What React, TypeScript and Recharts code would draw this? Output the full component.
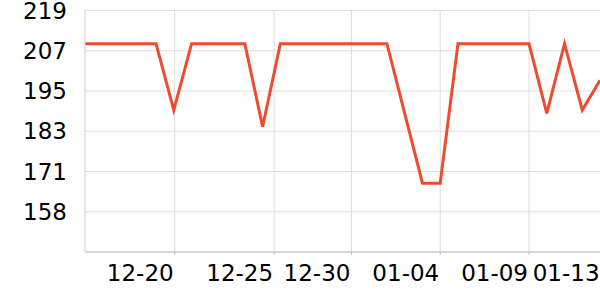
import React from "react";
import { LineChart, Line, XAxis, YAxis, CartesianGrid } from "recharts";

const dates = [
  "12-15", "12-16", "12-17", "12-18", "12-19", "12-20", "12-21", "12-22", "12-23", "12-24",
  "12-25", "12-26", "12-27", "12-28", "12-29", "12-30", "12-31", "01-01", "01-02", "01-03",
  "01-04", "01-05", "01-06", "01-07", "01-08", "01-09", "01-10", "01-11", "01-12", "01-13",
];
const values = [
  209, 209, 209, 209, 209, 189, 209, 209, 209, 209,
  184, 209, 209, 209, 209, 209, 209, 209, 188, 167,
  167, 209, 209, 209, 209, 209, 188, 209, 189, 198,
];
const xTicks = [5.05, 10.65, 15, 20, 25, 29.03];
const xTickLabels = ["12-20", "12-25", "12-30", "01-04", "01-09", "01-13"];
const xDomain = [0, 29.56];
const yTicks = [219, 206.88, 194.76, 182.64, 170.52, 158.4];
const yTickLabels = ["219", "207", "195", "183", "171", "158"];
const yDomain = [146.28, 219];

const data = dates.map((d, i) => ({ x: i, date: d, v: values[i] }));

const FONT = "DejaVu Sans";

const XTick = (props: any) => {
  const { x, y, payload } = props;
  const idx = xTicks.indexOf(payload.value);
  return (
    <text x={x - 1} y={y} dy="0.71em" textAnchor="end" fontSize={23} fontFamily={FONT} fill="#000">
      {idx >= 0 ? xTickLabels[idx] : ""}
    </text>
  );
};

const YTick = (props: any) => {
  const { x, y, payload } = props;
  const idx = yTicks.indexOf(payload.value);
  return (
    <text x={x} y={y} dy="0.355em" textAnchor="end" fontSize={23} fontFamily={FONT} fill="#000">
      {idx >= 0 ? yTickLabels[idx] : ""}
    </text>
  );
};

export default function App() {
  return (
    <div style={{ position: "absolute", left: 0, top: 0, width: 600, height: 300, overflow: "hidden" }}>
      <LineChart
        width={610}
        height={300}
        data={data}
        margin={{ top: 10.5, right: 0, bottom: 0, left: 0 }}
      >
        <CartesianGrid stroke="#ddd" strokeWidth={1} />
        <XAxis
          type="number"
          dataKey="x"
          domain={xDomain}
          ticks={xTicks}
          interval={0}
          height={48}
          tickSize={3}
          tickMargin={10}
          axisLine={{ stroke: "#bbb" }}
          tickLine={{ stroke: "#bbb" }}
          tick={<XTick />}
          allowDataOverflow
        />
        <YAxis
          type="number"
          domain={yDomain}
          ticks={yTicks}
          interval={0}
          width={85}
          tickSize={0}
          tickMargin={18}
          axisLine={{ stroke: "#ddd" }}
          tickLine={false}
          tick={<YTick />}
          allowDataOverflow
        />
        <Line
          type="linear"
          dataKey="v"
          stroke="#ee4c2c"
          strokeWidth={3}
          dot={false}
          isAnimationActive={false}
        />
      </LineChart>
    </div>
  );
}
